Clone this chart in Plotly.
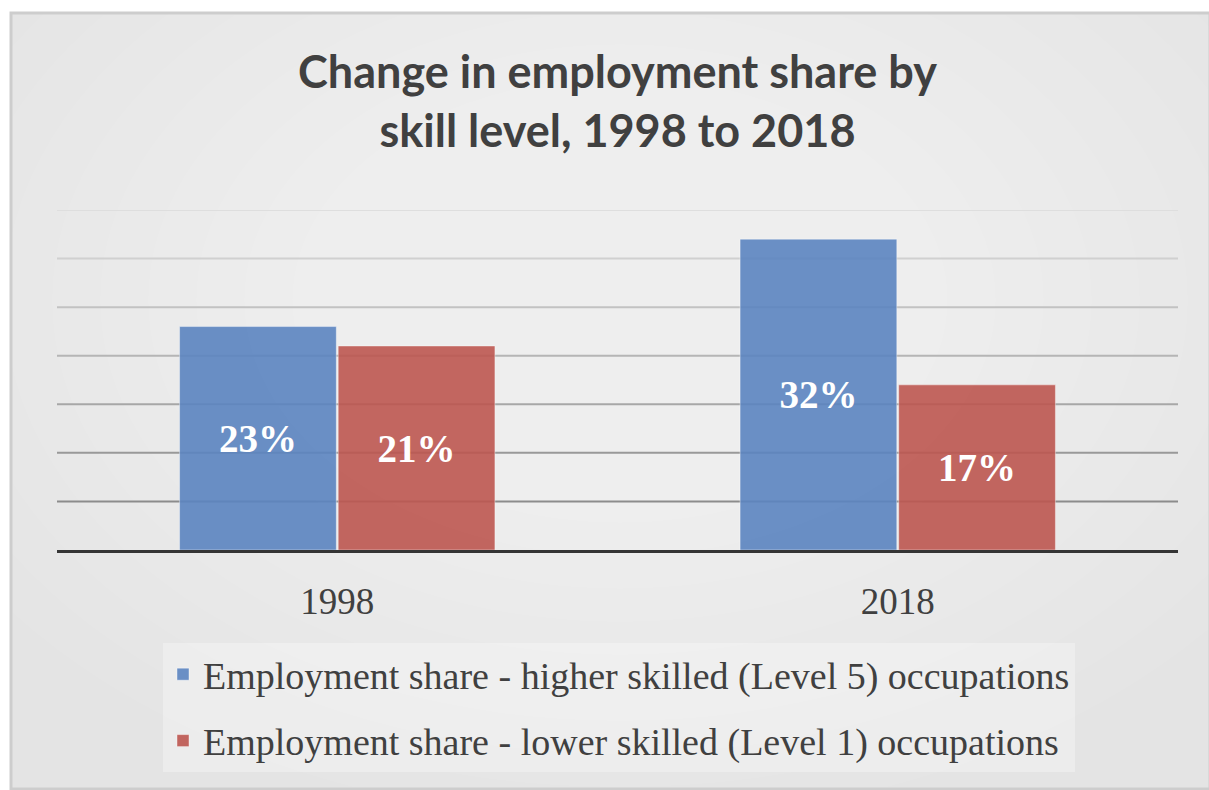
import plotly.graph_objects as go

# ---- data ----
years = ["1998", "2018"]
higher_skilled = [23, 32]
lower_skilled = [21, 17]
series_names = [
    "Employment share - higher skilled (Level 5) occupations",
    "Employment share - lower skilled (Level 1) occupations",
]
grid_values = [5, 10, 15, 20, 25, 30, 35]
title_text = "<b>Change in employment share by<br>skill level, 1998 to 2018</b>"

# ---- layout geometry ----
W, H = 1209, 790
L, R, T, B = 57, 31, 210, 240
pw = W - L - R
ph = H - T - B


def px_x(px):
    return (px - L) / pw


def px_y(py):
    return (H - B - py) / ph


fig = go.Figure()
fig.add_trace(go.Bar(
    x=years, y=higher_skilled, name=series_names[0], legendgroup="a",
    marker=dict(color="rgba(91,132,192,0.9)", line=dict(color="rgba(255,255,255,0.4)", width=1)),
    text=[f"{v}%" for v in higher_skilled], textposition="inside", insidetextanchor="middle",
    textangle=0, constraintext="none",
    textfont=dict(family="Liberation Serif", size=39, color="white", weight="bold"),
    hoverinfo="skip",
))
fig.add_trace(go.Bar(
    x=years, y=lower_skilled, name=series_names[1], legendgroup="b",
    marker=dict(color="rgba(188,87,80,0.9)", line=dict(color="rgba(255,255,255,0.4)", width=1)),
    text=[f"{v}%" for v in lower_skilled], textposition="inside", insidetextanchor="middle",
    textangle=0, constraintext="none",
    textfont=dict(family="Liberation Serif", size=39, color="white", weight="bold"),
    hoverinfo="skip",
))

shapes = []
# chart box background
shapes.append(dict(type="rect", xref="paper", yref="paper", layer="below",
                   x0=px_x(10), x1=px_x(1209), y0=px_y(788), y1=px_y(12),
                   fillcolor="#e4e4e4", line=dict(width=0)))
# radial-ish light gradient
cx, cy = 620, 300
for i in range(14):
    rx = 760 - i * 48
    ry = 520 - i * 33
    shapes.append(dict(type="circle", xref="paper", yref="paper", layer="below",
                       x0=px_x(cx - rx), x1=px_x(cx + rx), y0=px_y(cy + ry), y1=px_y(cy - ry),
                       fillcolor="rgba(255,255,255,0.055)", line=dict(width=0)))
# white outside strips
shapes.append(dict(type="rect", xref="paper", yref="paper", layer="below",
                   x0=px_x(0), x1=px_x(W), y0=px_y(12), y1=px_y(0),
                   fillcolor="white", line=dict(width=0)))
shapes.append(dict(type="rect", xref="paper", yref="paper", layer="below",
                   x0=px_x(0), x1=px_x(10), y0=px_y(H), y1=px_y(0),
                   fillcolor="white", line=dict(width=0)))
# border
shapes.append(dict(type="rect", xref="paper", yref="paper", layer="below",
                   x0=px_x(11), x1=px_x(1210), y0=px_y(789), y1=px_y(13),
                   fillcolor="rgba(0,0,0,0)", line=dict(color="#cdcdcd", width=3)))
# gridlines with graded tone
n = len(grid_values)
for i, v in enumerate(grid_values):
    t = i / (n - 1)
    c = int(140 + t * (222 - 140))
    shapes.append(dict(type="line", xref="paper", yref="y", layer="below",
                       x0=0, x1=1, y0=v, y1=v,
                       line=dict(color=f"rgb({c},{c},{c})", width=2)))

fig.update_layout(
    width=W, height=H,
    margin=dict(l=L, r=R, t=T, b=B),
    paper_bgcolor="white",
    plot_bgcolor="rgba(0,0,0,0)",
    barmode="group", bargap=0.434, bargroupgap=0.012,
    shapes=shapes,
    title=dict(text=title_text, x=0.5, xanchor="center", xref="paper",
               y=1 - 88 / H, yanchor="middle", yref="container",
               font=dict(family="Lato", size=45, color="#404040")),
    xaxis=dict(showline=True, linecolor="#353535", linewidth=3,
               ticks="outside", ticklen=17, tickcolor="rgba(0,0,0,0)",
               tickfont=dict(family="Liberation Serif", size=37, color="#404040"),
               showgrid=False, zeroline=False),
    yaxis=dict(range=[0, 35], showgrid=False, zeroline=False, showticklabels=False,
               showline=False),
    legend=dict(x=px_x(163), xanchor="left", y=px_y(643), yanchor="top",
                orientation="v", bgcolor="rgba(255,255,255,0.3)",
                tracegroupgap=14, traceorder="grouped",
                font=dict(family="Liberation Serif", size=38, color="#404040")),
    showlegend=True,
)

fig.write_html("out.html")
